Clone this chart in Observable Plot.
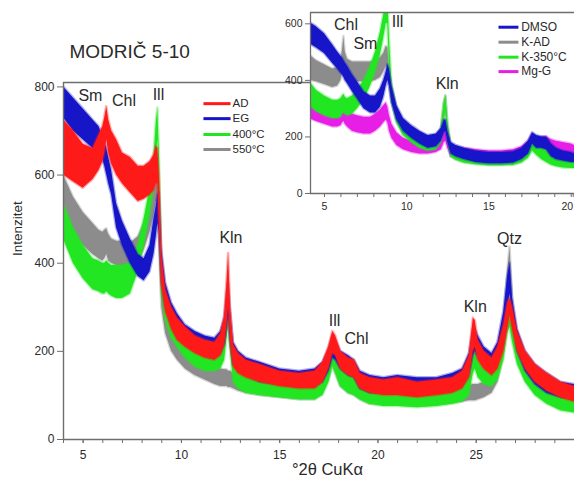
<!DOCTYPE html>
<html><head><meta charset="utf-8">
<script src="https://cdn.jsdelivr.net/npm/d3@7"></script>
<script src="https://cdn.jsdelivr.net/npm/@observablehq/plot@0.6"></script>
<style>
body{margin:0;background:#fff;font-family:Arial,"Liberation Sans",sans-serif;}
#wrap{position:relative;width:574px;height:480px;overflow:hidden;background:#fff;}
#main{position:absolute;left:0;top:0;}
#inset{position:absolute;left:280px;top:0;}
</style></head>
<body><div id="wrap"><div id="main"></div><div id="inset"></div></div>
<script>
// ---------- MAIN PATTERN (°2θ, noise envelope low/high in counts) ----------
const mainAngle = [4.0,4.5,5.0,5.5,5.8,6.0,6.1,6.2,6.3,6.45,6.7,7.0,7.4,7.8,8.1,8.4,8.6,8.72,8.8,8.88,9.0,9.2,9.5,9.8,10.2,10.7,11.2,11.7,12.0,12.2,12.32,12.4,12.5,12.65,12.9,13.3,14.0,15.0,16.0,16.8,17.2,17.5,17.7,17.85,18.1,18.5,18.8,19.1,19.6,20.3,21.0,22.0,23.0,23.8,24.3,24.65,24.85,24.95,25.1,25.4,25.8,26.1,26.4,26.6,26.72,26.85,27.1,27.5,28.0,28.6,29.3,30.0];
const adLow  = [600,585,570,590,610,630,650,680,650,625, 600,580,560,540,545,555,565,580,580,480, 350,290,250,225,210,195,185,180,190,215, 260,300,220,165,150,140,130,120,115,115, 130,160,195,190,160,145,140,115,105,100, 100,95,100,105,115,140,200,210,180,160, 145,160,200,250,280,250,200,160,130,110, 95,85];
const adHigh = [725,700,670,660,690,710,730,755,725,700, 680,650,640,620,620,630,645,665,660,600, 420,340,300,275,255,235,225,220,240,280, 360,422,300,215,195,180,170,155,150,155, 175,210,245,235,200,185,180,150,140,135, 140,130,135,140,155,190,275,270,225,200, 185,210,260,310,320,300,245,200,170,150, 130,120];
const egLow  = [730,700,680,660,650,635,620,600,580,555, 480,440,400,370,360,380,420,460,490,470, 360,300,260,235,215,200,190,185,195,215, 250,280,220,170,155,145,130,125,120,120, 130,155,185,180,160,145,140,115,105,105, 105,100,105,110,120,145,190,200,185,165, 155,170,220,300,330,270,200,155,125,105, 95,90];
const egHigh = [800,775,750,725,710,690,675,660,640,610, 535,495,455,420,410,440,500,530,555,560, 430,355,310,285,260,245,235,230,245,275, 330,355,290,220,200,185,175,160,155,160, 175,205,235,225,200,190,180,155,145,140, 145,140,140,150,160,195,250,250,235,210, 195,220,290,370,400,320,250,200,170,150, 130,125];
const t400Low  = [455,400,365,340,335,330,330,335,330,325, 320,320,330,380,440,510,570,640,680,550, 330,270,230,210,185,165,155,155,160,180, 230,260,200,130,115,105,100,95,90,90, 100,130,165,150,120,105,100,90,80,75, 75,72,75,80,85,100,150,160,140,125, 120,135,180,240,255,220,170,130,100,80, 65,60];
const t400High = [535,480,440,410,405,400,400,405,400,395, 395,395,400,440,500,570,640,720,752,650, 400,320,275,250,225,200,190,190,200,230, 300,330,250,175,155,145,140,130,125,125, 140,175,210,195,160,145,140,125,115,110, 110,108,110,115,120,140,210,205,180,160, 155,175,230,290,295,265,210,170,140,120, 100,95];
const t550Low  = [515,470,440,420,410,405,410,420,405,400, 395,395,390,400,430,470,510,540,540,440, 300,240,200,180,160,145,135,125,120,120, 120,118,118,115,110,105,100,95,90,90, 105,135,170,150,120,105,100,90,80,78, 78,75,78,82,85,88,88,88,90,95, 105,130,190,290,340,260,180,135,105,85, 70,65];
const t550High = [600,550,515,490,475,470,475,478,465,455, 450,450,445,460,490,540,590,610,600,530, 370,290,245,220,200,180,170,165,160,158, 158,155,155,150,145,140,135,130,125,125, 140,180,215,195,160,145,140,125,115,112, 112,110,112,118,120,122,125,125,125,130, 145,175,250,380,437,320,225,175,145,125, 105,100];
const mainNames = ["AD","EG","400°C","550°C"];
const mainPeaks = ["Sm","Chl","Ill","Kln","Ill","Chl","Kln","Qtz"];
const mainPeakAngle = [5.37,7.08,8.83,12.52,17.79,18.91,24.95,26.69];
const mainPeakLevel = [780,769,783,458,270,228,301,456];

// ---------- INSET PATTERN ----------
const insetAngle = [4.1,4.5,5.0,5.5,5.8,6.0,6.1,6.18,6.26,6.4,6.7,7.0,7.4,7.8,8.1,8.4,8.6,8.75,8.85,8.95,9.1,9.4,9.8,10.3,10.8,11.3,11.8,12.1,12.28,12.38,12.5,12.7,13.0,13.5,14.2,15.0,15.8,16.5,17.0,17.4,17.65,17.9,18.2,18.5,18.8,19.1,19.5,20.0,20.2];
const dmsoLow  = [530,515,495,460,440,425,418,410,400,388, 360,335,300,285,285,305,340,380,400,380, 320,260,220,195,175,160,165,185,215,220, 180,140,130,120,110,105,105,108,120,140, 175,160,160,155,130,120,115,110,110];
const dmsoHigh = [605,590,565,525,500,485,478,470,462,450, 420,395,360,345,345,370,400,430,455,440, 380,310,265,240,220,205,210,230,260,260, 220,180,170,160,150,145,145,148,160,185, 215,205,200,200,175,160,150,145,140];
const kadLow  = [400,395,385,375,380,400,430,460,430,410, 395,395,395,395,400,410,430,450,440,380, 320,255,210,185,165,155,160,185,260,290, 200,130,120,110,105,100,100,102,112,135, 165,150,140,135,115,105,98,98,96];
const kadHigh = [490,470,455,440,445,470,510,555,500,475, 465,465,465,465,470,480,495,520,515,440, 370,300,255,225,205,195,200,230,320,345, 250,170,160,150,140,135,135,138,150,175, 205,190,180,175,155,140,130,128,126];
const k350Low  = [310,290,275,265,265,270,280,285,280,275, 280,300,330,380,430,490,550,600,600,450, 330,250,205,180,160,150,155,180,260,290, 200,130,118,108,102,98,98,100,108,125, 150,135,120,110,100,95,90,88,88];
const k350High = [395,365,345,330,330,335,345,350,340,335, 345,365,400,450,500,570,630,700,700,550, 390,300,250,220,200,190,195,225,320,345, 250,165,155,145,138,132,132,135,145,165, 190,175,160,150,135,125,120,118,118];
const mggLow  = [265,255,245,235,235,240,250,255,245,235, 220,215,210,210,220,235,250,260,250,220, 195,170,155,145,140,140,145,155,180,185, 160,130,125,120,115,112,112,115,125,145, 170,160,160,155,150,145,140,135,130];
const mggHigh = [340,320,310,295,290,295,305,310,300,290, 280,275,270,270,280,295,310,320,305,275, 245,215,195,185,178,175,180,195,225,230, 200,170,165,160,155,150,150,155,165,185, 210,200,200,200,190,185,180,175,170];
const insetNames = ["DMSO","K-AD","K-350°C","Mg-G"];
const insetPeaks = ["Chl","Sm","Ill","Kln"];
const insetPeakAngle = [6.31,7.49,9.44,12.46];
const insetPeakLevel = [598,530,606,389];

// ---------- styling ----------
const FONT = "Arial, 'Liberation Sans', sans-serif";
const AXIS = "#6e6e6e", TXT = "#2a2a2a";
const col = {"AD":"#ff1a1a","EG":"#1616c8","400°C":"#22e622","550°C":"#8c8c8c",
             "DMSO":"#1616c8","K-AD":"#8c8c8c","K-350°C":"#22e622","Mg-G":"#e61ee6"};

function band(angles, low, high, color) {
  const rows = angles.map((a, i) => ({a, lo: low[i], hi: high[i]}));
  return Plot.areaY(rows, {x: "a", y1: "lo", y2: "hi", fill: color, stroke: color,
    strokeOpacity: 0.35, strokeWidth: 2.5, strokeLinejoin: "round", clip: true});
}

// legend anchors (data units)
const mLeg = {x1: 11.12, x2: 12.5, xt: 12.6, y: [762, 728, 692, 658]};
const iLeg = {x1: 15.58, x2: 16.79, xt: 16.96, y: [588, 535, 482, 431]};

const mainMarks = [
  band(mainAngle, t550Low, t550High, col["550°C"]),
  band(mainAngle, t400Low, t400High, col["400°C"]),
  band(mainAngle, egLow, egHigh, col["EG"]),
  band(mainAngle, adLow, adHigh, col["AD"]),
  Plot.ruleY([0], {stroke: AXIS, strokeWidth: 1.4}),
  Plot.ruleY([810], {stroke: AXIS, strokeWidth: 1.4}),
  Plot.ruleX([4], {stroke: AXIS, strokeWidth: 1.4}),
  Plot.axisX({ticks: d3.range(4, 31), tickSize: 4, tickFormat: () => "", stroke: AXIS, label: null}),
  Plot.axisX({ticks: [5, 10, 15, 20, 25], tickSize: 4, tickPadding: 7, fontSize: 12, fill: TXT, stroke: AXIS, label: null}),
  Plot.axisY({ticks: [0, 200, 400, 600, 800], tickSize: 6, tickPadding: 3, fontSize: 12, fill: TXT, stroke: AXIS, label: null}),
  Plot.text(mainPeaks.map((t, i) => ({t, a: mainPeakAngle[i], v: mainPeakLevel[i]})),
    {x: "a", y: "v", text: "t", fontSize: 16, fill: TXT, lineAnchor: "middle"}),
  Plot.text(["MODRIČ 5-10"], {text: d => d, frameAnchor: "top-left", dx: 6, dy: -31, textAnchor: "start",
    lineAnchor: "middle", fontSize: 19, fill: TXT, letterSpacing: "0.4px"}),
  Plot.text(["Intenzitet"], {text: d => d, frameAnchor: "left", dx: -46, dy: -5, rotate: -90,
    lineAnchor: "middle", fontSize: 13.5, fill: TXT}),
  Plot.text(["°2θ CuKα"], {text: d => d, frameAnchor: "bottom", dx: 8.5, dy: 30,
    lineAnchor: "middle", fontSize: 16.5, fill: TXT})
];
mainNames.forEach((n, i) => {
  mainMarks.push(Plot.link([0], {x1: mLeg.x1, x2: mLeg.x2, y1: mLeg.y[i], y2: mLeg.y[i], stroke: col[n], strokeWidth: 3}));
  mainMarks.push(Plot.text([n], {text: d => d, x: mLeg.xt, y: mLeg.y[i], textAnchor: "start", lineAnchor: "middle", fontSize: 11.5, fill: TXT}));
});

const mainPlot = Plot.plot({
  width: 574, height: 480, marginLeft: 63, marginTop: 82, marginBottom: 41, marginRight: 0,
  x: {domain: [4, 30]}, y: {domain: [0, 810]},
  style: {fontFamily: FONT, background: "transparent", overflow: "visible"},
  marks: mainMarks
});
document.getElementById("main").append(mainPlot);

const insetMarks = [
  Plot.frame({fill: "white", stroke: null}),
  band(insetAngle, mggLow, mggHigh, col["Mg-G"]),
  band(insetAngle, kadLow, kadHigh, col["K-AD"]),
  band(insetAngle, k350Low, k350High, col["K-350°C"]),
  band(insetAngle, dmsoLow, dmsoHigh, col["DMSO"]),
  Plot.ruleY([0], {stroke: AXIS, strokeWidth: 1.3}),
  Plot.ruleY([640], {stroke: AXIS, strokeWidth: 1.3}),
  Plot.ruleX([4.15], {stroke: AXIS, strokeWidth: 1.3}),
  Plot.axisX({ticks: d3.range(5, 21), tickSize: 4, tickFormat: () => "", stroke: AXIS, label: null}),
  Plot.axisX({ticks: [5, 10, 15], tickSize: 4, tickPadding: 5, fontSize: 10.5, fill: TXT, stroke: AXIS, label: null}),
  Plot.axisX({ticks: [20], tickSize: 4, tickPadding: 5, fontSize: 10.5, fill: TXT, stroke: AXIS, label: null, textAnchor: "end", dx: 2}),
  Plot.axisY({ticks: [0, 200, 400, 600], tickSize: 5, tickPadding: 3, fontSize: 10.5, fill: TXT, stroke: AXIS, label: null}),
  Plot.text(insetPeaks.map((t, i) => ({t, a: insetPeakAngle[i], v: insetPeakLevel[i]})),
    {x: "a", y: "v", text: "t", fontSize: 16, fill: TXT, lineAnchor: "middle"})
];
insetNames.forEach((n, i) => {
  insetMarks.push(Plot.link([0], {x1: iLeg.x1, x2: iLeg.x2, y1: iLeg.y[i], y2: iLeg.y[i], stroke: col[n], strokeWidth: 3}));
  insetMarks.push(Plot.text([n], {text: d => d, x: iLeg.xt, y: iLeg.y[i], textAnchor: "start", lineAnchor: "middle", fontSize: 12, fill: TXT}));
});

const insetPlot = Plot.plot({
  width: 294, height: 215, marginLeft: 30, marginTop: 12, marginBottom: 22, marginRight: 0,
  x: {domain: [4.15, 20.2]}, y: {domain: [0, 640]},
  style: {fontFamily: FONT, background: "transparent", overflow: "visible"},
  marks: insetMarks
});
document.getElementById("inset").append(insetPlot);
</script></body></html>
